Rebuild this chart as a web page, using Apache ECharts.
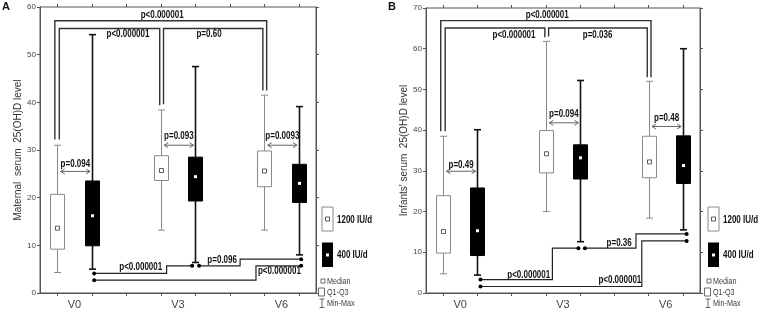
<!DOCTYPE html>
<html><head><meta charset="utf-8">
<script src="https://cdn.jsdelivr.net/npm/echarts@6/dist/echarts.min.js"></script>
<style>html,body{margin:0;padding:0;background:#fff}#c{width:760px;height:310px}</style>
</head><body><div id="c"></div><script>
// ---------- categories ----------
const visits = ['V0', 'V3', 'V6'];
const visitAt = [1, 4, 7];                 // label position on 0..8 slot axis
const doses = ['1200 IU/d', '400 IU/d'];
const boxSlot = [0.5, 1.5, 3.5, 4.5, 6.5, 7.5];
const boxDose = [0, 1, 0, 1, 0, 1];

// ---------- Panel A : maternal serum 25(OH)D ----------
const A_min = [4.3, 5.0, 13.2, 6.4, 13.2, 8.0];
const A_q1  = [9.2, 9.9, 23.6, 19.3, 22.3, 19.0];
const A_med = [13.6, 16.2, 25.7, 24.4, 25.6, 23.0];
const A_q3  = [20.7, 23.5, 28.8, 28.5, 29.8, 27.0];
const A_max = [31.0, 54.2, 38.4, 47.5, 41.5, 39.1];
const A_yTicks = [0, 60, 10];
// brackets between 1200 IU/d boxes
const A_brFrom = [0, 0, 2], A_brTo = [4, 2, 4];
const A_brTop = [57.1, 55.5, 55.5];
const A_brText = ['p<0.000001', 'p<0.000001', 'p=0.60'];
const A_brTextX = [3.54, 2.55, 4.9];
const A_brTextY = [58.2, 54.3, 54.3];
// within-visit arrows
const A_arY = [25.5, 31.0, 31.0];
const A_arText = ['p=0.094', 'p=0.093', 'p=0.0093'];
const A_arTextY = [27.1, 32.8, 32.8];
// 400 IU/d step connectors
const A_stX1 = [1.57, 4.61, 1.57], A_stX2 = [4.41, 7.57, 7.57];
const A_stLow = [4.1, 5.7, 2.7], A_stHigh = [5.7, 7.1, 5.7];
const A_stAt = [3.67, 5.8, 6.26];
const A_stText = ['p<0.000001', 'p=0.096', 'p<0.000001'];
const A_stTextX = [2.92, 5.28, 6.94];
const A_stTextY = [5.45, 6.9, 4.5];

// ---------- Panel B : infants' serum 25(OH)D ----------
const B_min = [4.7, 4.4, 20.0, 12.6, 18.4, 15.5];
const B_q1  = [9.8, 9.2, 29.5, 28.0, 28.3, 26.9];
const B_med = [15.1, 15.3, 34.2, 33.2, 32.2, 31.3];
const B_q3  = [23.9, 25.8, 39.9, 36.4, 38.5, 38.6];
const B_max = [38.5, 40.1, 61.8, 52.2, 52.0, 60.0];
const B_yTicks = [0, 70, 10];
const B_brFrom = [0, 0, 2], B_brTo = [4, 2, 4];
const B_brTop = [66.9, 65.1, 65.1];
const B_brText = ['p<0.000001', 'p<0.000001', 'p=0.036'];
const B_brTextX = [3.54, 2.57, 5.01];
const B_brTextY = [68.2, 63.2, 63.2];
const B_arY = [29.9, 41.8, 40.9];
const B_arText = ['p=0.49', 'p=0.094', 'p=0.48'];
const B_arTextY = [31.5, 43.8, 42.8];
const B_stX1 = [1.59, 4.64, 1.59], B_stX2 = [4.45, 7.61, 7.61];
const B_stLow = [3.3, 11.0, 1.6], B_stHigh = [11.0, 14.5, 12.8];
const B_stAt = [3.69, 6.13, 6.3];
const B_stText = ['p<0.000001', 'p=0.36', 'p<0.000001'];
const B_stTextX = [3.0, 5.64, 5.66];
const B_stTextY = [4.25, 12.3, 3.1];

// ---------- styles ----------
const SANS = "'Liberation Sans',Arial,sans-serif";
const GRAY = '#8a8a8a';
const NARROW_SCALE = 0.8;

function txt(x, y, s) {
  return { type: 'text', x: x, y: y, scaleX: NARROW_SCALE, style: {
    text: s, font: 'bold 10px ' + SANS, fill: '#111', align: 'center', verticalAlign: 'middle' } };
}

function boxSeries(p, mn, q1, md, q3, mx) {
  return {
    type: 'custom', xAxisIndex: p * 3, yAxisIndex: p * 2, z: 3,
    data: boxSlot.map((s, i) => [s, mn[i], q1[i], md[i], q3[i], mx[i], boxDose[i]]),
    renderItem: function (params, api) {
      const x = api.value(0), g = api.value(6);
      const c = v => api.coord([x, v]);
      const pMin = c(api.value(1)), pQ1 = c(api.value(2)), pMd = c(api.value(3)), pQ3 = c(api.value(4)), pMax = c(api.value(5));
      const cx = Math.round(pMin[0]) + 0.5, hw = 7, cap = 3.5;
      const col = g ? '#111' : GRAY, lw = g ? 1.6 : 1;
      const ls = { stroke: col, lineWidth: lw };
      const ch = [
        { type: 'line', shape: { x1: cx, y1: pMax[1], x2: cx, y2: pQ3[1] }, style: ls },
        { type: 'line', shape: { x1: cx, y1: pQ1[1], x2: cx, y2: pMin[1] }, style: ls },
        { type: 'line', shape: { x1: cx - cap, y1: pMax[1], x2: cx + cap, y2: pMax[1] }, style: ls },
        { type: 'line', shape: { x1: cx - cap, y1: pMin[1], x2: cx + cap, y2: pMin[1] }, style: ls },
        { type: 'rect', shape: { x: cx - hw, y: pQ3[1], width: 2 * hw, height: pQ1[1] - pQ3[1] },
          style: { fill: g ? '#000' : '#fff', stroke: g ? '#000' : GRAY, lineWidth: 1 } },
        g ? { type: 'rect', shape: { x: cx - 1.5, y: pMd[1] - 1.5, width: 3, height: 3 }, style: { fill: '#fff' } }
          : { type: 'rect', shape: { x: cx - 2, y: pMd[1] - 2, width: 4, height: 4 }, style: { fill: '#fff', stroke: '#333', lineWidth: 0.8 } }
      ];
      return { type: 'group', children: ch };
    }
  };
}

function bracketSeries(p, from, to, top, tx, ty, tt, mx) {
  const legOff = [[-0.07, 0.07], [0.06, -0.03], [0.08, -0.04]];
  return {
    type: 'custom', xAxisIndex: p * 3, yAxisIndex: p * 2, z: 4,
    data: from.map((f, i) => [boxSlot[f] + legOff[i][0], boxSlot[to[i]] + legOff[i][1], top[i],
      mx[f] + 1.2, mx[to[i]] + 1.0, tx[i], ty[i]]),
    renderItem: function (params, api) {
      const i = params.dataIndex;
      const a = api.coord([api.value(0), api.value(3)]), b = api.coord([api.value(0), api.value(2)]);
      const c = api.coord([api.value(1), api.value(2)]), d = api.coord([api.value(1), api.value(4)]);
      const t = api.coord([api.value(5), api.value(6)]);
      return { type: 'group', children: [
        { type: 'polyline', shape: { points: [a, b, c, d] }, style: { stroke: '#333', lineWidth: 1.4, fill: null } },
        txt(t[0], t[1], tt[i])
      ] };
    }
  };
}

function arrowSeries(p, ay, tt, ty) {
  const pairs = [[0, 1], [2, 3], [4, 5]];
  return {
    type: 'custom', xAxisIndex: p * 3, yAxisIndex: p * 2, z: 4,
    data: pairs.map((pr, i) => [boxSlot[pr[0]] + 0.1, boxSlot[pr[1]] - 0.05, ay[i], ty[i]]),
    renderItem: function (params, api) {
      const i = params.dataIndex;
      const a = api.coord([api.value(0), api.value(2)]), b = api.coord([api.value(1), api.value(2)]);
      const t = api.coord([(api.value(0) + api.value(1)) / 2, api.value(3)]);
      const s = { stroke: '#666', lineWidth: 1, fill: null };
      return { type: 'group', children: [
        { type: 'line', shape: { x1: a[0], y1: a[1], x2: b[0], y2: b[1] }, style: s },
        { type: 'polyline', shape: { points: [[a[0] + 4, a[1] - 2.5], [a[0], a[1]], [a[0] + 4, a[1] + 2.5]] }, style: s },
        { type: 'polyline', shape: { points: [[b[0] - 4, b[1] - 2.5], [b[0], b[1]], [b[0] - 4, b[1] + 2.5]] }, style: s },
        txt(t[0], t[1], tt[i])
      ] };
    }
  };
}

function stepSeries(p, x1, x2, lo, hi, at, tt, tx, ty) {
  return {
    type: 'custom', xAxisIndex: p * 3, yAxisIndex: p * 2, z: 4,
    data: x1.map((v, i) => [v, x2[i], lo[i], hi[i], at[i], tx[i], ty[i]]),
    renderItem: function (params, api) {
      const i = params.dataIndex;
      const s = api.coord([api.value(0), api.value(2)]);
      const m1 = api.coord([api.value(4), api.value(2)]);
      const m2 = api.coord([api.value(4), api.value(3)]);
      const e = api.coord([api.value(1), api.value(3)]);
      const t = api.coord([api.value(5), api.value(6)]);
      return { type: 'group', children: [
        { type: 'polyline', shape: { points: [s, m1, m2, e] }, style: { stroke: '#222', lineWidth: 1.2, fill: null } },
        { type: 'circle', shape: { cx: s[0], cy: s[1], r: 2 }, style: { fill: '#000' } },
        { type: 'circle', shape: { cx: e[0], cy: e[1], r: 2 }, style: { fill: '#000' } },
        txt(t[0], t[1], tt[i])
      ] };
    }
  };
}

function xAxes(gi) {
  const cats = ['', '', '', '', '', '', '', ''];
  const tick = { show: true, alignWithLabel: true, interval: 0, length: 3, lineStyle: { color: '#555' } };
  return [
    { type: 'value', gridIndex: gi, min: 0, max: 8, interval: 1, position: 'bottom',
      axisLine: { show: true, lineStyle: { color: '#555' } }, axisTick: { show: false }, splitLine: { show: false },
      axisLabel: { fontFamily: SANS, fontSize: 11, color: '#444', margin: 6,
        showMinLabel: true, showMaxLabel: true,
        formatter: v => { const k = visitAt.indexOf(Math.round(v)); return (k >= 0 && Math.abs(v - visitAt[k]) < 1e-6) ? visits[k] : ''; } } },
    { type: 'category', gridIndex: gi, data: cats, boundaryGap: true, position: 'bottom',
      axisLine: { show: false }, axisTick: tick, axisLabel: { show: false }, splitLine: { show: false } },
    { type: 'category', gridIndex: gi, data: cats, boundaryGap: true, position: 'top',
      axisLine: { show: false }, axisTick: tick, axisLabel: { show: false }, splitLine: { show: false } }
  ];
}

function yAxes(gi, ticks, name, gap) {
  return [
    { type: 'value', gridIndex: gi, min: ticks[0], max: ticks[1], interval: ticks[2], position: 'left',
      name: name, nameLocation: 'middle', nameGap: gap, nameRotate: 90,
      nameTextStyle: { fontFamily: SANS, fontSize: 10, color: '#333' },
      axisLine: { show: true, lineStyle: { color: '#555' } },
      axisTick: { show: true, length: 3, lineStyle: { color: '#555' } }, splitLine: { show: false },
      axisLabel: { fontFamily: SANS, fontSize: 8, color: '#444', margin: 4 } },
    { type: 'value', gridIndex: gi, min: ticks[0], max: ticks[1], interval: ticks[2], position: 'right',
      axisLine: { show: true, lineStyle: { color: '#555' } },
      axisTick: { show: true, length: 3, lineStyle: { color: '#555' } }, splitLine: { show: false },
      axisLabel: { show: false } }
  ];
}

function legend(x0) {
  const f = '9px ' + SANS;
  const sx = NARROW_SCALE;
  return [
    { type: 'rect', shape: { x: x0, y: 207, width: 11, height: 24 }, style: { fill: '#fff', stroke: GRAY, lineWidth: 1 } },
    { type: 'rect', shape: { x: x0 + 3.5, y: 217, width: 4, height: 4 }, style: { fill: '#fff', stroke: '#333', lineWidth: 0.8 } },
    { type: 'text', x: x0 + 15, y: 220, scaleX: sx, style: { text: doses[0], font: 'bold 10px ' + SANS, fill: '#111', verticalAlign: 'middle' } },
    { type: 'rect', shape: { x: x0, y: 242.5, width: 11, height: 24.5 }, style: { fill: '#000' } },
    { type: 'rect', shape: { x: x0 + 4, y: 253.5, width: 3, height: 3 }, style: { fill: '#fff' } },
    { type: 'text', x: x0 + 15, y: 255, scaleX: sx, style: { text: doses[1], font: 'bold 10px ' + SANS, fill: '#111', verticalAlign: 'middle' } },
    { type: 'rect', shape: { x: x0 - 1, y: 279, width: 4, height: 4 }, style: { fill: '#fff', stroke: '#444', lineWidth: 0.8 } },
    { type: 'text', x: x0 + 5, y: 281.5, scaleX: sx, style: { text: 'Median', font: f, fill: '#444', verticalAlign: 'middle' } },
    { type: 'rect', shape: { x: x0 - 3.5, y: 288, width: 6, height: 8 }, style: { fill: '#fff', stroke: '#444', lineWidth: 0.8 } },
    { type: 'text', x: x0 + 5, y: 292.5, scaleX: sx, style: { text: 'Q1-Q3', font: f, fill: '#444', verticalAlign: 'middle' } },
    { type: 'polyline', shape: { points: [[x0 - 2.5, 299], [x0 + 2.5, 299]] }, style: { stroke: '#444', lineWidth: 0.8 } },
    { type: 'polyline', shape: { points: [[x0, 299], [x0, 307.5]] }, style: { stroke: '#444', lineWidth: 0.8 } },
    { type: 'polyline', shape: { points: [[x0 - 2.5, 307.5], [x0 + 2.5, 307.5]] }, style: { stroke: '#444', lineWidth: 0.8 } },
    { type: 'text', x: x0 + 5, y: 303.5, scaleX: sx, style: { text: 'Min-Max', font: f, fill: '#444', verticalAlign: 'middle' } }
  ];
}

const chart = echarts.init(document.getElementById('c'), null, { renderer: 'canvas' });
chart.setOption({
  animation: false,
  backgroundColor: '#fff',
  grid: [
    { left: 40, top: 7, width: 276, height: 286, show: true, borderColor: '#555', borderWidth: 1, containLabel: false, outerBoundsMode: 'none' },
    { left: 426, top: 8, width: 274, height: 285, show: true, borderColor: '#555', borderWidth: 1, containLabel: false, outerBoundsMode: 'none' }
  ],
  xAxis: xAxes(0).concat(xAxes(1)),
  yAxis: yAxes(0, A_yTicks, 'Maternal  serum  25(OH)D level', 8).concat(yAxes(1, B_yTicks, "Infants' serum  25(OH)D level", 15)),
  series: [
    boxSeries(0, A_min, A_q1, A_med, A_q3, A_max),
    bracketSeries(0, A_brFrom, A_brTo, A_brTop, A_brTextX, A_brTextY, A_brText, A_max),
    arrowSeries(0, A_arY, A_arText, A_arTextY),
    stepSeries(0, A_stX1, A_stX2, A_stLow, A_stHigh, A_stAt, A_stText, A_stTextX, A_stTextY),
    boxSeries(1, B_min, B_q1, B_med, B_q3, B_max),
    bracketSeries(1, B_brFrom, B_brTo, B_brTop, B_brTextX, B_brTextY, B_brText, B_max),
    arrowSeries(1, B_arY, B_arText, B_arTextY),
    stepSeries(1, B_stX1, B_stX2, B_stLow, B_stHigh, B_stAt, B_stText, B_stTextX, B_stTextY)
  ],
  graphic: [
    { type: 'text', x: 2, y: 7, style: { text: 'A', font: 'bold 11px ' + SANS, fill: '#111', verticalAlign: 'middle' } },
    { type: 'text', x: 388, y: 7, style: { text: 'B', font: 'bold 11px ' + SANS, fill: '#111', verticalAlign: 'middle' } }
  ].concat(legend(322)).concat(legend(708))
});
</script></body></html>
